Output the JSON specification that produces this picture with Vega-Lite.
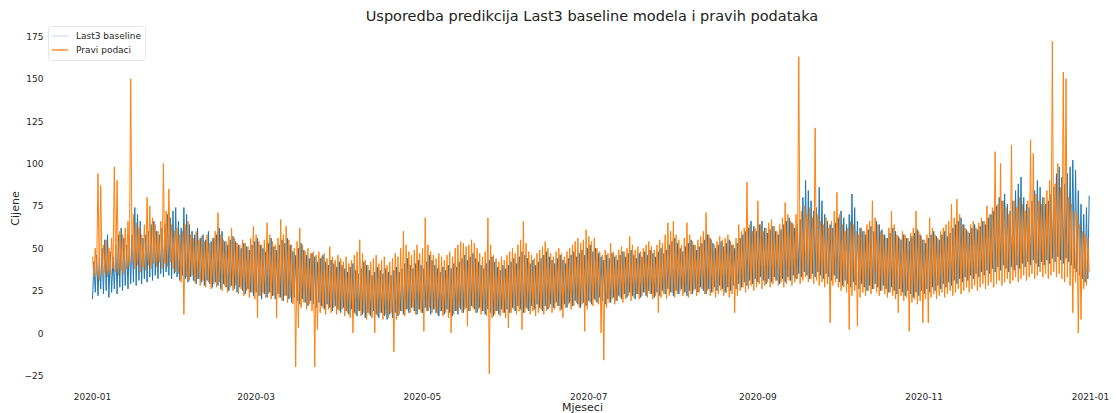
{
  "$schema": "https://vega.github.io/schema/vega-lite/v6.json",
  "width": 1068,
  "height": 366,
  "autosize": {"type": "none"},
  "padding": {"left": 48, "top": 25, "right": 0, "bottom": 22},
  "background": "white",
  "config": {
    "view": {"stroke": null},
    "font": "DejaVu Sans",
    "axis": {"labelFont": "DejaVu Sans", "titleFont": "DejaVu Sans", "labelColor": "#262626", "titleColor": "#262626"},
    "legend": {"labelFont": "DejaVu Sans"}
  },
  "title": {
    "text": "Usporedba predikcija Last3 baseline modela i pravih podataka",
    "font": "DejaVu Sans",
    "fontSize": 14.5,
    "fontWeight": "normal",
    "color": "#222222",
    "anchor": "middle",
    "dx": 10,
    "offset": 1
  },
  "data": {
    "values": [
      {"t":"2020-01-01T05:00","b":20,"p":45},{"t":"2020-01-01T17:00","b":42,"p":33},
      {"t":"2020-01-02T05:00","b":24,"p":50},{"t":"2020-01-02T17:00","b":46,"p":35},
      {"t":"2020-01-03T05:00","b":22,"p":94},{"t":"2020-01-03T17:00","b":44,"p":31},
      {"t":"2020-01-04T05:00","b":26,"p":87},{"t":"2020-01-04T17:00","b":50,"p":34},
      {"t":"2020-01-05T05:00","b":23,"p":52},{"t":"2020-01-05T17:00","b":55,"p":36},
      {"t":"2020-01-06T05:00","b":25,"p":55},{"t":"2020-01-06T17:00","b":58,"p":33},
      {"t":"2020-01-07T05:00","b":21,"p":50},{"t":"2020-01-07T17:00","b":48,"p":35},
      {"t":"2020-01-08T05:00","b":24,"p":56},{"t":"2020-01-08T17:00","b":45,"p":38},
      {"t":"2020-01-09T05:00","b":26,"p":98},{"t":"2020-01-09T17:00","b":52,"p":36},
      {"t":"2020-01-10T05:00","b":23,"p":90},{"t":"2020-01-10T17:00","b":58,"p":34},
      {"t":"2020-01-11T05:00","b":27,"p":60},{"t":"2020-01-11T17:00","b":62,"p":37},
      {"t":"2020-01-12T05:00","b":25,"p":58},{"t":"2020-01-12T17:00","b":56,"p":35},
      {"t":"2020-01-13T05:00","b":28,"p":62},{"t":"2020-01-13T17:00","b":52,"p":38},
      {"t":"2020-01-14T05:00","b":26,"p":66},{"t":"2020-01-14T17:00","b":55,"p":40},
      {"t":"2020-01-15T05:00","b":29,"p":150},{"t":"2020-01-15T17:00","b":58,"p":42},
      {"t":"2020-01-16T05:00","b":30,"p":70},{"t":"2020-01-16T17:00","b":74,"p":38},
      {"t":"2020-01-17T05:00","b":28,"p":65},{"t":"2020-01-17T17:00","b":70,"p":40},
      {"t":"2020-01-18T05:00","b":31,"p":62},{"t":"2020-01-18T17:00","b":66,"p":36},
      {"t":"2020-01-19T05:00","b":29,"p":58},{"t":"2020-01-19T17:00","b":56,"p":39},
      {"t":"2020-01-20T05:00","b":32,"p":64},{"t":"2020-01-20T17:00","b":58,"p":37},
      {"t":"2020-01-21T05:00","b":30,"p":80},{"t":"2020-01-21T17:00","b":60,"p":40},
      {"t":"2020-01-22T05:00","b":33,"p":75},{"t":"2020-01-22T17:00","b":64,"p":38},
      {"t":"2020-01-23T05:00","b":31,"p":68},{"t":"2020-01-23T17:00","b":66,"p":41},
      {"t":"2020-01-24T05:00","b":34,"p":64},{"t":"2020-01-24T17:00","b":60,"p":39},
      {"t":"2020-01-25T05:00","b":32,"p":60},{"t":"2020-01-25T17:00","b":58,"p":42},
      {"t":"2020-01-26T05:00","b":35,"p":66},{"t":"2020-01-26T17:00","b":62,"p":38},
      {"t":"2020-01-27T05:00","b":33,"p":100},{"t":"2020-01-27T17:00","b":64,"p":41},
      {"t":"2020-01-28T05:00","b":36,"p":72},{"t":"2020-01-28T17:00","b":70,"p":39},
      {"t":"2020-01-29T05:00","b":34,"p":85},{"t":"2020-01-29T17:00","b":68,"p":42},
      {"t":"2020-01-30T05:00","b":32,"p":64},{"t":"2020-01-30T17:00","b":72,"p":38},
      {"t":"2020-01-31T05:00","b":35,"p":60},{"t":"2020-01-31T17:00","b":74,"p":36},
      {"t":"2020-02-01T05:00","b":33,"p":62},{"t":"2020-02-01T17:00","b":66,"p":35},
      {"t":"2020-02-02T05:00","b":31,"p":58},{"t":"2020-02-02T17:00","b":62,"p":30},
      {"t":"2020-02-03T05:00","b":34,"p":60},{"t":"2020-02-03T17:00","b":74,"p":11},
      {"t":"2020-02-04T05:00","b":32,"p":64},{"t":"2020-02-04T17:00","b":70,"p":33},
      {"t":"2020-02-05T05:00","b":30,"p":66},{"t":"2020-02-05T17:00","b":64,"p":31},
      {"t":"2020-02-06T05:00","b":33,"p":58},{"t":"2020-02-06T17:00","b":60,"p":34},
      {"t":"2020-02-07T05:00","b":31,"p":56},{"t":"2020-02-07T17:00","b":58,"p":30},
      {"t":"2020-02-08T05:00","b":29,"p":60},{"t":"2020-02-08T17:00","b":62,"p":32},
      {"t":"2020-02-09T05:00","b":32,"p":55},{"t":"2020-02-09T17:00","b":56,"p":28},
      {"t":"2020-02-10T05:00","b":30,"p":57},{"t":"2020-02-10T17:00","b":58,"p":31},
      {"t":"2020-02-11T05:00","b":28,"p":54},{"t":"2020-02-11T17:00","b":55,"p":27},
      {"t":"2020-02-12T05:00","b":31,"p":58},{"t":"2020-02-12T17:00","b":60,"p":30},
      {"t":"2020-02-13T05:00","b":29,"p":53},{"t":"2020-02-13T17:00","b":54,"p":26},
      {"t":"2020-02-14T05:00","b":27,"p":56},{"t":"2020-02-14T17:00","b":56,"p":29},
      {"t":"2020-02-15T05:00","b":30,"p":60},{"t":"2020-02-15T17:00","b":58,"p":27},
      {"t":"2020-02-16T05:00","b":28,"p":71},{"t":"2020-02-16T17:00","b":62,"p":30},
      {"t":"2020-02-17T05:00","b":26,"p":58},{"t":"2020-02-17T17:00","b":60,"p":25},
      {"t":"2020-02-18T05:00","b":29,"p":55},{"t":"2020-02-18T17:00","b":54,"p":28},
      {"t":"2020-02-19T05:00","b":27,"p":54},{"t":"2020-02-19T17:00","b":52,"p":24},
      {"t":"2020-02-20T05:00","b":25,"p":57},{"t":"2020-02-20T17:00","b":55,"p":27},
      {"t":"2020-02-21T05:00","b":28,"p":62},{"t":"2020-02-21T17:00","b":57,"p":25},
      {"t":"2020-02-22T05:00","b":26,"p":56},{"t":"2020-02-22T17:00","b":54,"p":28},
      {"t":"2020-02-23T05:00","b":24,"p":53},{"t":"2020-02-23T17:00","b":52,"p":23},
      {"t":"2020-02-24T05:00","b":27,"p":52},{"t":"2020-02-24T17:00","b":50,"p":26},
      {"t":"2020-02-25T05:00","b":25,"p":55},{"t":"2020-02-25T17:00","b":53,"p":22},
      {"t":"2020-02-26T05:00","b":23,"p":53},{"t":"2020-02-26T17:00","b":51,"p":25},
      {"t":"2020-02-27T05:00","b":26,"p":51},{"t":"2020-02-27T17:00","b":49,"p":21},
      {"t":"2020-02-28T05:00","b":24,"p":56},{"t":"2020-02-28T17:00","b":52,"p":24},
      {"t":"2020-02-29T05:00","b":22,"p":63},{"t":"2020-02-29T17:00","b":54,"p":20},
      {"t":"2020-03-01T05:00","b":24,"p":58},{"t":"2020-03-01T17:00","b":56,"p":9},
      {"t":"2020-03-02T05:00","b":22,"p":54},{"t":"2020-03-02T17:00","b":52,"p":22},
      {"t":"2020-03-03T05:00","b":20,"p":52},{"t":"2020-03-03T17:00","b":50,"p":24},
      {"t":"2020-03-04T05:00","b":23,"p":55},{"t":"2020-03-04T17:00","b":48,"p":21},
      {"t":"2020-03-05T05:00","b":21,"p":65},{"t":"2020-03-05T17:00","b":53,"p":23},
      {"t":"2020-03-06T05:00","b":24,"p":58},{"t":"2020-03-06T17:00","b":56,"p":20},
      {"t":"2020-03-07T05:00","b":22,"p":54},{"t":"2020-03-07T17:00","b":51,"p":22},
      {"t":"2020-03-08T05:00","b":20,"p":52},{"t":"2020-03-08T17:00","b":49,"p":9},
      {"t":"2020-03-09T05:00","b":23,"p":56},{"t":"2020-03-09T17:00","b":52,"p":21},
      {"t":"2020-03-10T05:00","b":21,"p":67},{"t":"2020-03-10T17:00","b":55,"p":19},
      {"t":"2020-03-11T05:00","b":19,"p":58},{"t":"2020-03-11T17:00","b":53,"p":22},
      {"t":"2020-03-12T05:00","b":22,"p":63},{"t":"2020-03-12T17:00","b":56,"p":18},
      {"t":"2020-03-13T05:00","b":20,"p":55},{"t":"2020-03-13T17:00","b":52,"p":21},
      {"t":"2020-03-14T05:00","b":18,"p":52},{"t":"2020-03-14T17:00","b":48,"p":17},
      {"t":"2020-03-15T05:00","b":21,"p":50},{"t":"2020-03-15T17:00","b":46,"p":-20},
      {"t":"2020-03-16T05:00","b":19,"p":54},{"t":"2020-03-16T17:00","b":50,"p":3},
      {"t":"2020-03-17T05:00","b":17,"p":62},{"t":"2020-03-17T17:00","b":53,"p":15},
      {"t":"2020-03-18T05:00","b":20,"p":52},{"t":"2020-03-18T17:00","b":49,"p":18},
      {"t":"2020-03-19T05:00","b":18,"p":48},{"t":"2020-03-19T17:00","b":46,"p":14},
      {"t":"2020-03-20T05:00","b":16,"p":50},{"t":"2020-03-20T17:00","b":44,"p":17},
      {"t":"2020-03-21T05:00","b":19,"p":47},{"t":"2020-03-21T17:00","b":47,"p":13},
      {"t":"2020-03-22T05:00","b":17,"p":48},{"t":"2020-03-22T17:00","b":45,"p":-20},
      {"t":"2020-03-23T05:00","b":15,"p":46},{"t":"2020-03-23T17:00","b":42,"p":2},
      {"t":"2020-03-24T05:00","b":18,"p":48},{"t":"2020-03-24T17:00","b":44,"p":12},
      {"t":"2020-03-25T05:00","b":16,"p":45},{"t":"2020-03-25T17:00","b":46,"p":15},
      {"t":"2020-03-26T05:00","b":14,"p":47},{"t":"2020-03-26T17:00","b":42,"p":11},
      {"t":"2020-03-27T05:00","b":17,"p":44},{"t":"2020-03-27T17:00","b":40,"p":14},
      {"t":"2020-03-28T05:00","b":15,"p":51},{"t":"2020-03-28T17:00","b":43,"p":12},
      {"t":"2020-03-29T05:00","b":13,"p":45},{"t":"2020-03-29T17:00","b":41,"p":15},
      {"t":"2020-03-30T05:00","b":16,"p":43},{"t":"2020-03-30T17:00","b":39,"p":11},
      {"t":"2020-03-31T05:00","b":14,"p":46},{"t":"2020-03-31T17:00","b":42,"p":13},
      {"t":"2020-04-01T05:00","b":12,"p":44},{"t":"2020-04-01T17:00","b":40,"p":14},
      {"t":"2020-04-02T05:00","b":15,"p":42},{"t":"2020-04-02T17:00","b":38,"p":10},
      {"t":"2020-04-03T05:00","b":13,"p":45},{"t":"2020-04-03T17:00","b":36,"p":12},
      {"t":"2020-04-04T05:00","b":11,"p":41},{"t":"2020-04-04T17:00","b":39,"p":9},
      {"t":"2020-04-05T05:00","b":14,"p":43},{"t":"2020-04-05T17:00","b":41,"p":0},
      {"t":"2020-04-06T05:00","b":12,"p":46},{"t":"2020-04-06T17:00","b":37,"p":11},
      {"t":"2020-04-07T05:00","b":10,"p":48},{"t":"2020-04-07T17:00","b":35,"p":13},
      {"t":"2020-04-08T05:00","b":13,"p":55},{"t":"2020-04-08T17:00","b":38,"p":10},
      {"t":"2020-04-09T05:00","b":11,"p":47},{"t":"2020-04-09T17:00","b":42,"p":12},
      {"t":"2020-04-10T05:00","b":9,"p":43},{"t":"2020-04-10T17:00","b":40,"p":8},
      {"t":"2020-04-11T05:00","b":12,"p":40},{"t":"2020-04-11T17:00","b":37,"p":11},
      {"t":"2020-04-12T05:00","b":10,"p":42},{"t":"2020-04-12T17:00","b":34,"p":9},
      {"t":"2020-04-13T05:00","b":13,"p":44},{"t":"2020-04-13T17:00","b":36,"p":0},
      {"t":"2020-04-14T05:00","b":11,"p":46},{"t":"2020-04-14T17:00","b":39,"p":10},
      {"t":"2020-04-15T05:00","b":9,"p":41},{"t":"2020-04-15T17:00","b":37,"p":12},
      {"t":"2020-04-16T05:00","b":12,"p":43},{"t":"2020-04-16T17:00","b":35,"p":8},
      {"t":"2020-04-17T05:00","b":10,"p":45},{"t":"2020-04-17T17:00","b":38,"p":11},
      {"t":"2020-04-18T05:00","b":8,"p":40},{"t":"2020-04-18T17:00","b":36,"p":9},
      {"t":"2020-04-19T05:00","b":11,"p":42},{"t":"2020-04-19T17:00","b":34,"p":12},
      {"t":"2020-04-20T05:00","b":9,"p":44},{"t":"2020-04-20T17:00","b":37,"p":-11},
      {"t":"2020-04-21T05:00","b":12,"p":47},{"t":"2020-04-21T17:00","b":39,"p":8},
      {"t":"2020-04-22T05:00","b":10,"p":45},{"t":"2020-04-22T17:00","b":36,"p":11},
      {"t":"2020-04-23T05:00","b":13,"p":50},{"t":"2020-04-23T17:00","b":38,"p":13},
      {"t":"2020-04-24T05:00","b":11,"p":60},{"t":"2020-04-24T17:00","b":41,"p":10},
      {"t":"2020-04-25T05:00","b":14,"p":52},{"t":"2020-04-25T17:00","b":44,"p":14},
      {"t":"2020-04-26T05:00","b":12,"p":48},{"t":"2020-04-26T17:00","b":40,"p":12},
      {"t":"2020-04-27T05:00","b":15,"p":46},{"t":"2020-04-27T17:00","b":38,"p":15},
      {"t":"2020-04-28T05:00","b":13,"p":49},{"t":"2020-04-28T17:00","b":41,"p":11},
      {"t":"2020-04-29T05:00","b":11,"p":52},{"t":"2020-04-29T17:00","b":43,"p":14},
      {"t":"2020-04-30T05:00","b":14,"p":47},{"t":"2020-04-30T17:00","b":40,"p":12},
      {"t":"2020-05-01T05:00","b":12,"p":50},{"t":"2020-05-01T17:00","b":38,"p":1},
      {"t":"2020-05-02T05:00","b":15,"p":68},{"t":"2020-05-02T17:00","b":42,"p":13},
      {"t":"2020-05-03T05:00","b":13,"p":52},{"t":"2020-05-03T17:00","b":46,"p":15},
      {"t":"2020-05-04T05:00","b":11,"p":48},{"t":"2020-05-04T17:00","b":43,"p":12},
      {"t":"2020-05-05T05:00","b":14,"p":46},{"t":"2020-05-05T17:00","b":40,"p":14},
      {"t":"2020-05-06T05:00","b":12,"p":44},{"t":"2020-05-06T17:00","b":38,"p":11},
      {"t":"2020-05-07T05:00","b":10,"p":47},{"t":"2020-05-07T17:00","b":36,"p":13},
      {"t":"2020-05-08T05:00","b":13,"p":45},{"t":"2020-05-08T17:00","b":39,"p":10},
      {"t":"2020-05-09T05:00","b":11,"p":43},{"t":"2020-05-09T17:00","b":37,"p":12},
      {"t":"2020-05-10T05:00","b":14,"p":46},{"t":"2020-05-10T17:00","b":40,"p":9},
      {"t":"2020-05-11T05:00","b":12,"p":48},{"t":"2020-05-11T17:00","b":38,"p":0},
      {"t":"2020-05-12T05:00","b":10,"p":45},{"t":"2020-05-12T17:00","b":41,"p":11},
      {"t":"2020-05-13T05:00","b":13,"p":50},{"t":"2020-05-13T17:00","b":39,"p":13},
      {"t":"2020-05-14T05:00","b":11,"p":52},{"t":"2020-05-14T17:00","b":42,"p":15},
      {"t":"2020-05-15T05:00","b":14,"p":54},{"t":"2020-05-15T17:00","b":44,"p":12},
      {"t":"2020-05-16T05:00","b":12,"p":53},{"t":"2020-05-16T17:00","b":46,"p":14},
      {"t":"2020-05-17T05:00","b":15,"p":51},{"t":"2020-05-17T17:00","b":43,"p":4},
      {"t":"2020-05-18T05:00","b":13,"p":52},{"t":"2020-05-18T17:00","b":45,"p":13},
      {"t":"2020-05-19T05:00","b":16,"p":55},{"t":"2020-05-19T17:00","b":47,"p":15},
      {"t":"2020-05-20T05:00","b":14,"p":53},{"t":"2020-05-20T17:00","b":44,"p":12},
      {"t":"2020-05-21T05:00","b":12,"p":50},{"t":"2020-05-21T17:00","b":42,"p":14},
      {"t":"2020-05-22T05:00","b":15,"p":47},{"t":"2020-05-22T17:00","b":40,"p":11},
      {"t":"2020-05-23T05:00","b":13,"p":45},{"t":"2020-05-23T17:00","b":38,"p":13},
      {"t":"2020-05-24T05:00","b":11,"p":48},{"t":"2020-05-24T17:00","b":41,"p":10},
      {"t":"2020-05-25T05:00","b":14,"p":68},{"t":"2020-05-25T17:00","b":43,"p":-24},
      {"t":"2020-05-26T05:00","b":12,"p":52},{"t":"2020-05-26T17:00","b":45,"p":9},
      {"t":"2020-05-27T05:00","b":10,"p":46},{"t":"2020-05-27T17:00","b":42,"p":11},
      {"t":"2020-05-28T05:00","b":13,"p":44},{"t":"2020-05-28T17:00","b":39,"p":13},
      {"t":"2020-05-29T05:00","b":11,"p":42},{"t":"2020-05-29T17:00","b":37,"p":10},
      {"t":"2020-05-30T05:00","b":14,"p":45},{"t":"2020-05-30T17:00","b":40,"p":12},
      {"t":"2020-05-31T05:00","b":12,"p":43},{"t":"2020-05-31T17:00","b":38,"p":9},
      {"t":"2020-06-01T05:00","b":14,"p":46},{"t":"2020-06-01T17:00","b":40,"p":3},
      {"t":"2020-06-02T05:00","b":12,"p":48},{"t":"2020-06-02T17:00","b":42,"p":12},
      {"t":"2020-06-03T05:00","b":15,"p":50},{"t":"2020-06-03T17:00","b":44,"p":14},
      {"t":"2020-06-04T05:00","b":13,"p":47},{"t":"2020-06-04T17:00","b":41,"p":11},
      {"t":"2020-06-05T05:00","b":16,"p":52},{"t":"2020-06-05T17:00","b":45,"p":13},
      {"t":"2020-06-06T05:00","b":14,"p":55},{"t":"2020-06-06T17:00","b":48,"p":2},
      {"t":"2020-06-07T05:00","b":12,"p":66},{"t":"2020-06-07T17:00","b":46,"p":12},
      {"t":"2020-06-08T05:00","b":15,"p":53},{"t":"2020-06-08T17:00","b":44,"p":14},
      {"t":"2020-06-09T05:00","b":13,"p":48},{"t":"2020-06-09T17:00","b":41,"p":11},
      {"t":"2020-06-10T05:00","b":16,"p":46},{"t":"2020-06-10T17:00","b":43,"p":13},
      {"t":"2020-06-11T05:00","b":14,"p":44},{"t":"2020-06-11T17:00","b":40,"p":10},
      {"t":"2020-06-12T05:00","b":17,"p":47},{"t":"2020-06-12T17:00","b":42,"p":12},
      {"t":"2020-06-13T05:00","b":15,"p":49},{"t":"2020-06-13T17:00","b":44,"p":14},
      {"t":"2020-06-14T05:00","b":13,"p":51},{"t":"2020-06-14T17:00","b":46,"p":11},
      {"t":"2020-06-15T05:00","b":16,"p":54},{"t":"2020-06-15T17:00","b":48,"p":13},
      {"t":"2020-06-16T05:00","b":14,"p":50},{"t":"2020-06-16T17:00","b":45,"p":15},
      {"t":"2020-06-17T05:00","b":17,"p":47},{"t":"2020-06-17T17:00","b":43,"p":12},
      {"t":"2020-06-18T05:00","b":15,"p":45},{"t":"2020-06-18T17:00","b":41,"p":14},
      {"t":"2020-06-19T05:00","b":18,"p":48},{"t":"2020-06-19T17:00","b":44,"p":16},
      {"t":"2020-06-20T05:00","b":16,"p":50},{"t":"2020-06-20T17:00","b":46,"p":13},
      {"t":"2020-06-21T05:00","b":14,"p":47},{"t":"2020-06-21T17:00","b":43,"p":9},
      {"t":"2020-06-22T05:00","b":17,"p":45},{"t":"2020-06-22T17:00","b":41,"p":15},
      {"t":"2020-06-23T05:00","b":15,"p":48},{"t":"2020-06-23T17:00","b":44,"p":17},
      {"t":"2020-06-24T05:00","b":18,"p":50},{"t":"2020-06-24T17:00","b":46,"p":14},
      {"t":"2020-06-25T05:00","b":16,"p":52},{"t":"2020-06-25T17:00","b":48,"p":16},
      {"t":"2020-06-26T05:00","b":19,"p":54},{"t":"2020-06-26T17:00","b":45,"p":18},
      {"t":"2020-06-27T05:00","b":17,"p":56},{"t":"2020-06-27T17:00","b":47,"p":15},
      {"t":"2020-06-28T05:00","b":15,"p":53},{"t":"2020-06-28T17:00","b":49,"p":17},
      {"t":"2020-06-29T05:00","b":18,"p":55},{"t":"2020-06-29T17:00","b":46,"p":1},
      {"t":"2020-06-30T05:00","b":16,"p":61},{"t":"2020-06-30T17:00","b":50,"p":14},
      {"t":"2020-07-01T05:00","b":19,"p":57},{"t":"2020-07-01T17:00","b":52,"p":18},
      {"t":"2020-07-02T05:00","b":17,"p":54},{"t":"2020-07-02T17:00","b":48,"p":16},
      {"t":"2020-07-03T05:00","b":20,"p":56},{"t":"2020-07-03T17:00","b":50,"p":19},
      {"t":"2020-07-04T05:00","b":18,"p":50},{"t":"2020-07-04T17:00","b":47,"p":17},
      {"t":"2020-07-05T05:00","b":21,"p":48},{"t":"2020-07-05T17:00","b":45,"p":0},
      {"t":"2020-07-06T05:00","b":19,"p":46},{"t":"2020-07-06T17:00","b":43,"p":-16},
      {"t":"2020-07-07T05:00","b":17,"p":49},{"t":"2020-07-07T17:00","b":46,"p":15},
      {"t":"2020-07-08T05:00","b":20,"p":47},{"t":"2020-07-08T17:00","b":44,"p":18},
      {"t":"2020-07-09T05:00","b":18,"p":53},{"t":"2020-07-09T17:00","b":47,"p":20},
      {"t":"2020-07-10T05:00","b":21,"p":48},{"t":"2020-07-10T17:00","b":45,"p":17},
      {"t":"2020-07-11T05:00","b":19,"p":46},{"t":"2020-07-11T17:00","b":43,"p":19},
      {"t":"2020-07-12T05:00","b":22,"p":49},{"t":"2020-07-12T17:00","b":46,"p":21},
      {"t":"2020-07-13T05:00","b":20,"p":51},{"t":"2020-07-13T17:00","b":48,"p":18},
      {"t":"2020-07-14T05:00","b":23,"p":48},{"t":"2020-07-14T17:00","b":45,"p":20},
      {"t":"2020-07-15T05:00","b":21,"p":50},{"t":"2020-07-15T17:00","b":47,"p":22},
      {"t":"2020-07-16T05:00","b":24,"p":57},{"t":"2020-07-16T17:00","b":49,"p":19},
      {"t":"2020-07-17T05:00","b":22,"p":52},{"t":"2020-07-17T17:00","b":46,"p":21},
      {"t":"2020-07-18T05:00","b":20,"p":49},{"t":"2020-07-18T17:00","b":44,"p":23},
      {"t":"2020-07-19T05:00","b":23,"p":51},{"t":"2020-07-19T17:00","b":47,"p":20},
      {"t":"2020-07-20T05:00","b":21,"p":48},{"t":"2020-07-20T17:00","b":45,"p":22},
      {"t":"2020-07-21T05:00","b":24,"p":50},{"t":"2020-07-21T17:00","b":48,"p":24},
      {"t":"2020-07-22T05:00","b":22,"p":52},{"t":"2020-07-22T17:00","b":46,"p":21},
      {"t":"2020-07-23T05:00","b":25,"p":54},{"t":"2020-07-23T17:00","b":49,"p":23},
      {"t":"2020-07-24T05:00","b":23,"p":51},{"t":"2020-07-24T17:00","b":47,"p":20},
      {"t":"2020-07-25T05:00","b":21,"p":49},{"t":"2020-07-25T17:00","b":45,"p":22},
      {"t":"2020-07-26T05:00","b":24,"p":52},{"t":"2020-07-26T17:00","b":48,"p":12},
      {"t":"2020-07-27T05:00","b":22,"p":55},{"t":"2020-07-27T17:00","b":50,"p":21},
      {"t":"2020-07-28T05:00","b":25,"p":53},{"t":"2020-07-28T17:00","b":47,"p":23},
      {"t":"2020-07-29T05:00","b":23,"p":58},{"t":"2020-07-29T17:00","b":49,"p":20},
      {"t":"2020-07-30T05:00","b":26,"p":65},{"t":"2020-07-30T17:00","b":52,"p":22},
      {"t":"2020-07-31T05:00","b":24,"p":60},{"t":"2020-07-31T17:00","b":54,"p":24},
      {"t":"2020-08-01T05:00","b":22,"p":66},{"t":"2020-08-01T17:00","b":56,"p":21},
      {"t":"2020-08-02T05:00","b":25,"p":58},{"t":"2020-08-02T17:00","b":53,"p":23},
      {"t":"2020-08-03T05:00","b":23,"p":55},{"t":"2020-08-03T17:00","b":50,"p":25},
      {"t":"2020-08-04T05:00","b":26,"p":52},{"t":"2020-08-04T17:00","b":48,"p":22},
      {"t":"2020-08-05T05:00","b":24,"p":56},{"t":"2020-08-05T17:00","b":51,"p":24},
      {"t":"2020-08-06T05:00","b":22,"p":65},{"t":"2020-08-06T17:00","b":53,"p":21},
      {"t":"2020-08-07T05:00","b":25,"p":58},{"t":"2020-08-07T17:00","b":55,"p":23},
      {"t":"2020-08-08T05:00","b":23,"p":54},{"t":"2020-08-08T17:00","b":52,"p":25},
      {"t":"2020-08-09T05:00","b":26,"p":52},{"t":"2020-08-09T17:00","b":49,"p":22},
      {"t":"2020-08-10T05:00","b":24,"p":55},{"t":"2020-08-10T17:00","b":51,"p":24},
      {"t":"2020-08-11T05:00","b":27,"p":57},{"t":"2020-08-11T17:00","b":53,"p":26},
      {"t":"2020-08-12T05:00","b":25,"p":60},{"t":"2020-08-12T17:00","b":55,"p":23},
      {"t":"2020-08-13T05:00","b":23,"p":71},{"t":"2020-08-13T17:00","b":58,"p":25},
      {"t":"2020-08-14T05:00","b":26,"p":58},{"t":"2020-08-14T17:00","b":56,"p":22},
      {"t":"2020-08-15T05:00","b":24,"p":55},{"t":"2020-08-15T17:00","b":53,"p":24},
      {"t":"2020-08-16T05:00","b":27,"p":52},{"t":"2020-08-16T17:00","b":50,"p":21},
      {"t":"2020-08-17T05:00","b":25,"p":54},{"t":"2020-08-17T17:00","b":52,"p":23},
      {"t":"2020-08-18T05:00","b":28,"p":57},{"t":"2020-08-18T17:00","b":54,"p":25},
      {"t":"2020-08-19T05:00","b":26,"p":55},{"t":"2020-08-19T17:00","b":51,"p":22},
      {"t":"2020-08-20T05:00","b":24,"p":56},{"t":"2020-08-20T17:00","b":53,"p":24},
      {"t":"2020-08-21T05:00","b":27,"p":58},{"t":"2020-08-21T17:00","b":55,"p":21},
      {"t":"2020-08-22T05:00","b":25,"p":54},{"t":"2020-08-22T17:00","b":52,"p":23},
      {"t":"2020-08-23T05:00","b":28,"p":52},{"t":"2020-08-23T17:00","b":50,"p":12},
      {"t":"2020-08-24T05:00","b":26,"p":56},{"t":"2020-08-24T17:00","b":53,"p":22},
      {"t":"2020-08-25T05:00","b":29,"p":64},{"t":"2020-08-25T17:00","b":56,"p":25},
      {"t":"2020-08-26T05:00","b":27,"p":60},{"t":"2020-08-26T17:00","b":58,"p":27},
      {"t":"2020-08-27T05:00","b":30,"p":62},{"t":"2020-08-27T17:00","b":60,"p":24},
      {"t":"2020-08-28T05:00","b":28,"p":89},{"t":"2020-08-28T17:00","b":62,"p":26},
      {"t":"2020-08-29T05:00","b":31,"p":64},{"t":"2020-08-29T17:00","b":66,"p":28},
      {"t":"2020-08-30T05:00","b":29,"p":60},{"t":"2020-08-30T17:00","b":63,"p":25},
      {"t":"2020-08-31T05:00","b":32,"p":62},{"t":"2020-08-31T17:00","b":60,"p":27},
      {"t":"2020-09-01T05:00","b":30,"p":78},{"t":"2020-09-01T17:00","b":64,"p":29},
      {"t":"2020-09-02T05:00","b":33,"p":64},{"t":"2020-09-02T17:00","b":66,"p":26},
      {"t":"2020-09-03T05:00","b":31,"p":60},{"t":"2020-09-03T17:00","b":62,"p":28},
      {"t":"2020-09-04T05:00","b":29,"p":62},{"t":"2020-09-04T17:00","b":59,"p":30},
      {"t":"2020-09-05T05:00","b":32,"p":65},{"t":"2020-09-05T17:00","b":61,"p":27},
      {"t":"2020-09-06T05:00","b":30,"p":67},{"t":"2020-09-06T17:00","b":63,"p":29},
      {"t":"2020-09-07T05:00","b":33,"p":63},{"t":"2020-09-07T17:00","b":60,"p":31},
      {"t":"2020-09-08T05:00","b":31,"p":60},{"t":"2020-09-08T17:00","b":58,"p":28},
      {"t":"2020-09-09T05:00","b":29,"p":64},{"t":"2020-09-09T17:00","b":61,"p":30},
      {"t":"2020-09-10T05:00","b":32,"p":68},{"t":"2020-09-10T17:00","b":64,"p":27},
      {"t":"2020-09-11T05:00","b":30,"p":77},{"t":"2020-09-11T17:00","b":66,"p":29},
      {"t":"2020-09-12T05:00","b":33,"p":70},{"t":"2020-09-12T17:00","b":68,"p":31},
      {"t":"2020-09-13T05:00","b":31,"p":66},{"t":"2020-09-13T17:00","b":65,"p":28},
      {"t":"2020-09-14T05:00","b":34,"p":64},{"t":"2020-09-14T17:00","b":62,"p":30},
      {"t":"2020-09-15T05:00","b":32,"p":70},{"t":"2020-09-15T17:00","b":64,"p":32},
      {"t":"2020-09-16T05:00","b":35,"p":163},{"t":"2020-09-16T17:00","b":67,"p":29},
      {"t":"2020-09-17T05:00","b":33,"p":72},{"t":"2020-09-17T17:00","b":80,"p":31},
      {"t":"2020-09-18T05:00","b":36,"p":75},{"t":"2020-09-18T17:00","b":90,"p":33},
      {"t":"2020-09-19T05:00","b":34,"p":70},{"t":"2020-09-19T17:00","b":84,"p":30},
      {"t":"2020-09-20T05:00","b":32,"p":74},{"t":"2020-09-20T17:00","b":78,"p":32},
      {"t":"2020-09-21T05:00","b":35,"p":68},{"t":"2020-09-21T17:00","b":72,"p":29},
      {"t":"2020-09-22T05:00","b":33,"p":121},{"t":"2020-09-22T17:00","b":74,"p":31},
      {"t":"2020-09-23T05:00","b":36,"p":70},{"t":"2020-09-23T17:00","b":86,"p":28},
      {"t":"2020-09-24T05:00","b":34,"p":66},{"t":"2020-09-24T17:00","b":78,"p":30},
      {"t":"2020-09-25T05:00","b":32,"p":64},{"t":"2020-09-25T17:00","b":70,"p":27},
      {"t":"2020-09-26T05:00","b":35,"p":68},{"t":"2020-09-26T17:00","b":66,"p":29},
      {"t":"2020-09-27T05:00","b":33,"p":62},{"t":"2020-09-27T17:00","b":64,"p":6},
      {"t":"2020-09-28T05:00","b":31,"p":66},{"t":"2020-09-28T17:00","b":62,"p":28},
      {"t":"2020-09-29T05:00","b":34,"p":72},{"t":"2020-09-29T17:00","b":65,"p":30},
      {"t":"2020-09-30T05:00","b":32,"p":83},{"t":"2020-09-30T17:00","b":68,"p":27},
      {"t":"2020-10-01T05:00","b":30,"p":70},{"t":"2020-10-01T17:00","b":72,"p":25},
      {"t":"2020-10-02T05:00","b":28,"p":64},{"t":"2020-10-02T17:00","b":68,"p":27},
      {"t":"2020-10-03T05:00","b":31,"p":60},{"t":"2020-10-03T17:00","b":64,"p":24},
      {"t":"2020-10-04T05:00","b":29,"p":62},{"t":"2020-10-04T17:00","b":70,"p":2},
      {"t":"2020-10-05T05:00","b":27,"p":66},{"t":"2020-10-05T17:00","b":82,"p":22},
      {"t":"2020-10-06T05:00","b":30,"p":64},{"t":"2020-10-06T17:00","b":74,"p":25},
      {"t":"2020-10-07T05:00","b":28,"p":60},{"t":"2020-10-07T17:00","b":66,"p":4},
      {"t":"2020-10-08T05:00","b":26,"p":58},{"t":"2020-10-08T17:00","b":62,"p":21},
      {"t":"2020-10-09T05:00","b":29,"p":62},{"t":"2020-10-09T17:00","b":60,"p":24},
      {"t":"2020-10-10T05:00","b":27,"p":60},{"t":"2020-10-10T17:00","b":58,"p":22},
      {"t":"2020-10-11T05:00","b":25,"p":64},{"t":"2020-10-11T17:00","b":61,"p":25},
      {"t":"2020-10-12T05:00","b":28,"p":66},{"t":"2020-10-12T17:00","b":63,"p":23},
      {"t":"2020-10-13T05:00","b":26,"p":78},{"t":"2020-10-13T17:00","b":60,"p":26},
      {"t":"2020-10-14T05:00","b":29,"p":68},{"t":"2020-10-14T17:00","b":66,"p":24},
      {"t":"2020-10-15T05:00","b":27,"p":64},{"t":"2020-10-15T17:00","b":64,"p":22},
      {"t":"2020-10-16T05:00","b":25,"p":60},{"t":"2020-10-16T17:00","b":61,"p":25},
      {"t":"2020-10-17T05:00","b":28,"p":58},{"t":"2020-10-17T17:00","b":58,"p":23},
      {"t":"2020-10-18T05:00","b":26,"p":56},{"t":"2020-10-18T17:00","b":56,"p":21},
      {"t":"2020-10-19T05:00","b":24,"p":62},{"t":"2020-10-19T17:00","b":59,"p":24},
      {"t":"2020-10-20T05:00","b":27,"p":72},{"t":"2020-10-20T17:00","b":62,"p":22},
      {"t":"2020-10-21T05:00","b":25,"p":64},{"t":"2020-10-21T17:00","b":60,"p":20},
      {"t":"2020-10-22T05:00","b":23,"p":58},{"t":"2020-10-22T17:00","b":57,"p":12},
      {"t":"2020-10-23T05:00","b":26,"p":56},{"t":"2020-10-23T17:00","b":55,"p":22},
      {"t":"2020-10-24T05:00","b":24,"p":60},{"t":"2020-10-24T17:00","b":58,"p":19},
      {"t":"2020-10-25T05:00","b":22,"p":58},{"t":"2020-10-25T17:00","b":56,"p":21},
      {"t":"2020-10-26T05:00","b":25,"p":56},{"t":"2020-10-26T17:00","b":54,"p":1},
      {"t":"2020-10-27T05:00","b":23,"p":59},{"t":"2020-10-27T17:00","b":57,"p":18},
      {"t":"2020-10-28T05:00","b":21,"p":62},{"t":"2020-10-28T17:00","b":59,"p":20},
      {"t":"2020-10-29T05:00","b":24,"p":72},{"t":"2020-10-29T17:00","b":61,"p":17},
      {"t":"2020-10-30T05:00","b":22,"p":60},{"t":"2020-10-30T17:00","b":58,"p":19},
      {"t":"2020-10-31T05:00","b":25,"p":57},{"t":"2020-10-31T17:00","b":55,"p":6},
      {"t":"2020-11-01T05:00","b":23,"p":55},{"t":"2020-11-01T17:00","b":53,"p":20},
      {"t":"2020-11-02T05:00","b":26,"p":58},{"t":"2020-11-02T17:00","b":56,"p":6},
      {"t":"2020-11-03T05:00","b":24,"p":68},{"t":"2020-11-03T17:00","b":58,"p":21},
      {"t":"2020-11-04T05:00","b":27,"p":62},{"t":"2020-11-04T17:00","b":60,"p":23},
      {"t":"2020-11-05T05:00","b":25,"p":58},{"t":"2020-11-05T17:00","b":57,"p":20},
      {"t":"2020-11-06T05:00","b":28,"p":56},{"t":"2020-11-06T17:00","b":55,"p":22},
      {"t":"2020-11-07T05:00","b":26,"p":60},{"t":"2020-11-07T17:00","b":58,"p":24},
      {"t":"2020-11-08T05:00","b":29,"p":62},{"t":"2020-11-08T17:00","b":60,"p":21},
      {"t":"2020-11-09T05:00","b":27,"p":64},{"t":"2020-11-09T17:00","b":57,"p":23},
      {"t":"2020-11-10T05:00","b":30,"p":66},{"t":"2020-11-10T17:00","b":59,"p":25},
      {"t":"2020-11-11T05:00","b":28,"p":76},{"t":"2020-11-11T17:00","b":62,"p":22},
      {"t":"2020-11-12T05:00","b":31,"p":68},{"t":"2020-11-12T17:00","b":64,"p":24},
      {"t":"2020-11-13T05:00","b":29,"p":79},{"t":"2020-11-13T17:00","b":66,"p":26},
      {"t":"2020-11-14T05:00","b":32,"p":70},{"t":"2020-11-14T17:00","b":68,"p":23},
      {"t":"2020-11-15T05:00","b":30,"p":64},{"t":"2020-11-15T17:00","b":64,"p":25},
      {"t":"2020-11-16T05:00","b":33,"p":62},{"t":"2020-11-16T17:00","b":61,"p":27},
      {"t":"2020-11-17T05:00","b":31,"p":60},{"t":"2020-11-17T17:00","b":59,"p":24},
      {"t":"2020-11-18T05:00","b":34,"p":64},{"t":"2020-11-18T17:00","b":62,"p":26},
      {"t":"2020-11-19T05:00","b":32,"p":66},{"t":"2020-11-19T17:00","b":64,"p":28},
      {"t":"2020-11-20T05:00","b":35,"p":62},{"t":"2020-11-20T17:00","b":61,"p":25},
      {"t":"2020-11-21T05:00","b":33,"p":65},{"t":"2020-11-21T17:00","b":63,"p":27},
      {"t":"2020-11-22T05:00","b":36,"p":68},{"t":"2020-11-22T17:00","b":66,"p":29},
      {"t":"2020-11-23T05:00","b":34,"p":66},{"t":"2020-11-23T17:00","b":64,"p":26},
      {"t":"2020-11-24T05:00","b":37,"p":75},{"t":"2020-11-24T17:00","b":68,"p":28},
      {"t":"2020-11-25T05:00","b":35,"p":70},{"t":"2020-11-25T17:00","b":70,"p":30},
      {"t":"2020-11-26T05:00","b":38,"p":74},{"t":"2020-11-26T17:00","b":72,"p":27},
      {"t":"2020-11-27T05:00","b":36,"p":107},{"t":"2020-11-27T17:00","b":75,"p":29},
      {"t":"2020-11-28T05:00","b":39,"p":76},{"t":"2020-11-28T17:00","b":80,"p":31},
      {"t":"2020-11-29T05:00","b":37,"p":100},{"t":"2020-11-29T17:00","b":78,"p":28},
      {"t":"2020-11-30T05:00","b":40,"p":78},{"t":"2020-11-30T17:00","b":82,"p":30},
      {"t":"2020-12-01T05:00","b":38,"p":74},{"t":"2020-12-01T17:00","b":76,"p":32},
      {"t":"2020-12-02T05:00","b":36,"p":70},{"t":"2020-12-02T17:00","b":72,"p":29},
      {"t":"2020-12-03T05:00","b":39,"p":111},{"t":"2020-12-03T17:00","b":78,"p":31},
      {"t":"2020-12-04T05:00","b":37,"p":78},{"t":"2020-12-04T17:00","b":84,"p":33},
      {"t":"2020-12-05T05:00","b":40,"p":74},{"t":"2020-12-05T17:00","b":88,"p":30},
      {"t":"2020-12-06T05:00","b":38,"p":80},{"t":"2020-12-06T17:00","b":92,"p":32},
      {"t":"2020-12-07T05:00","b":41,"p":76},{"t":"2020-12-07T17:00","b":80,"p":34},
      {"t":"2020-12-08T05:00","b":39,"p":72},{"t":"2020-12-08T17:00","b":76,"p":31},
      {"t":"2020-12-09T05:00","b":42,"p":78},{"t":"2020-12-09T17:00","b":74,"p":33},
      {"t":"2020-12-10T05:00","b":40,"p":114},{"t":"2020-12-10T17:00","b":78,"p":35},
      {"t":"2020-12-11T05:00","b":43,"p":106},{"t":"2020-12-11T17:00","b":84,"p":32},
      {"t":"2020-12-12T05:00","b":41,"p":82},{"t":"2020-12-12T17:00","b":90,"p":34},
      {"t":"2020-12-13T05:00","b":39,"p":78},{"t":"2020-12-13T17:00","b":86,"p":36},
      {"t":"2020-12-14T05:00","b":42,"p":76},{"t":"2020-12-14T17:00","b":80,"p":33},
      {"t":"2020-12-15T05:00","b":40,"p":80},{"t":"2020-12-15T17:00","b":76,"p":35},
      {"t":"2020-12-16T05:00","b":43,"p":84},{"t":"2020-12-16T17:00","b":78,"p":32},
      {"t":"2020-12-17T05:00","b":41,"p":90},{"t":"2020-12-17T17:00","b":82,"p":34},
      {"t":"2020-12-18T05:00","b":44,"p":172},{"t":"2020-12-18T17:00","b":86,"p":36},
      {"t":"2020-12-19T05:00","b":42,"p":88},{"t":"2020-12-19T17:00","b":94,"p":33},
      {"t":"2020-12-20T05:00","b":45,"p":100},{"t":"2020-12-20T17:00","b":98,"p":35},
      {"t":"2020-12-21T05:00","b":43,"p":86},{"t":"2020-12-21T17:00","b":92,"p":32},
      {"t":"2020-12-22T05:00","b":41,"p":154},{"t":"2020-12-22T17:00","b":88,"p":30},
      {"t":"2020-12-23T05:00","b":44,"p":150},{"t":"2020-12-23T17:00","b":94,"p":33},
      {"t":"2020-12-24T05:00","b":42,"p":80},{"t":"2020-12-24T17:00","b":98,"p":28},
      {"t":"2020-12-25T05:00","b":40,"p":76},{"t":"2020-12-25T17:00","b":102,"p":12},
      {"t":"2020-12-26T05:00","b":38,"p":72},{"t":"2020-12-26T17:00","b":96,"p":30},
      {"t":"2020-12-27T05:00","b":36,"p":70},{"t":"2020-12-27T17:00","b":84,"p":0},
      {"t":"2020-12-28T05:00","b":34,"p":64},{"t":"2020-12-28T17:00","b":76,"p":8},
      {"t":"2020-12-29T05:00","b":32,"p":60},{"t":"2020-12-29T17:00","b":70,"p":26},
      {"t":"2020-12-30T05:00","b":30,"p":58},{"t":"2020-12-30T17:00","b":74,"p":28},
      {"t":"2020-12-31T05:00","b":32,"p":56},{"t":"2020-12-31T17:00","b":81,"p":36}
    ]
  },
  "encoding": {
    "x": {
      "field": "t",
      "type": "temporal",
      "scale": {
        "domain": [
          {"year": 2019, "month": 12, "date": 15, "hours": 21},
          {"year": 2021, "month": 1, "date": 10, "hours": 13}
        ]
      },
      "axis": {
        "values": [
          {"year": 2020, "month": 1, "date": 1},
          {"year": 2020, "month": 3, "date": 1},
          {"year": 2020, "month": 5, "date": 1},
          {"year": 2020, "month": 7, "date": 1},
          {"year": 2020, "month": 9, "date": 1},
          {"year": 2020, "month": 11, "date": 1},
          {"year": 2021, "month": 1, "date": 1}
        ],
        "format": "%Y-%m",
        "grid": false,
        "domain": false,
        "ticks": false,
        "labelPadding": 1,
        "labelFontSize": 9,
        "labelFlush": false,
        "labelOverlap": false,
        "title": "Mjeseci",
        "titleFontSize": 11,
        "titleFontWeight": "normal",
        "titlePadding": 0
      }
    }
  },
  "layer": [
    {
      "mark": {"type": "line", "stroke": "#1f77b4", "strokeWidth": 1},
      "encoding": {
        "y": {
          "field": "b",
          "type": "quantitative",
          "scale": {"domain": [-34.2, 181.7], "nice": false, "zero": false},
          "axis": {
            "values": [-25, 0, 25, 50, 75, 100, 125, 150, 175],
            "grid": false,
            "domain": false,
            "ticks": false,
            "labelPadding": 5,
            "labelFontSize": 9,
            "title": "Cijene",
            "titleFontSize": 11,
            "titleFontWeight": "normal",
            "titleX": -33,
            "titleY": 183,
            "titleAngle": 270,
            "titleAlign": "center",
            "titleBaseline": "middle"
          }
        }
      }
    },
    {
      "mark": {"type": "line", "stroke": "#ff7f0e", "strokeWidth": 1},
      "encoding": {
        "y": {
          "field": "p",
          "type": "quantitative",
          "scale": {"domain": [-34.2, 181.7], "nice": false, "zero": false},
          "axis": {
            "values": [-25, 0, 25, 50, 75, 100, 125, 150, 175],
            "grid": false,
            "domain": false,
            "ticks": false,
            "labelPadding": 5,
            "labelFontSize": 9,
            "title": "Cijene",
            "titleFontSize": 11,
            "titleFontWeight": "normal",
            "titleX": -33,
            "titleY": 183,
            "titleAngle": 270,
            "titleAlign": "center",
            "titleBaseline": "middle"
          }
        }
      }
    },
    {
      "transform": [{"filter": "false"}],
      "mark": {"type": "line"},
      "encoding": {
        "y": {
          "field": "b",
          "type": "quantitative",
          "scale": {"domain": [-34.2, 181.7], "nice": false, "zero": false},
          "axis": {
            "values": [-25, 0, 25, 50, 75, 100, 125, 150, 175],
            "grid": false,
            "domain": false,
            "ticks": false,
            "labelPadding": 5,
            "labelFontSize": 9,
            "title": "Cijene",
            "titleFontSize": 11,
            "titleFontWeight": "normal",
            "titleX": -33,
            "titleY": 183,
            "titleAngle": 270,
            "titleAlign": "center",
            "titleBaseline": "middle"
          }
        },
        "color": {
          "field": "s",
          "type": "nominal",
          "scale": {"domain": ["Last3 baseline", "Pravi podaci"], "range": ["#d3e2ee", "#ff7f0e"]},
          "legend": {
            "title": null,
            "orient": "none",
            "legendX": 0,
            "legendY": 1,
            "fillColor": "white",
            "strokeColor": "#e6e6e6",
            "cornerRadius": 3,
            "padding": 3,
            "labelFontSize": 9,
            "labelColor": "#262626",
            "labelOffset": 7,
            "symbolType": "stroke",
            "symbolSize": 256,
            "symbolStrokeWidth": 1.3,
            "clipHeight": 14,
            "rowPadding": 0
          }
        }
      }
    }
  ]
}
